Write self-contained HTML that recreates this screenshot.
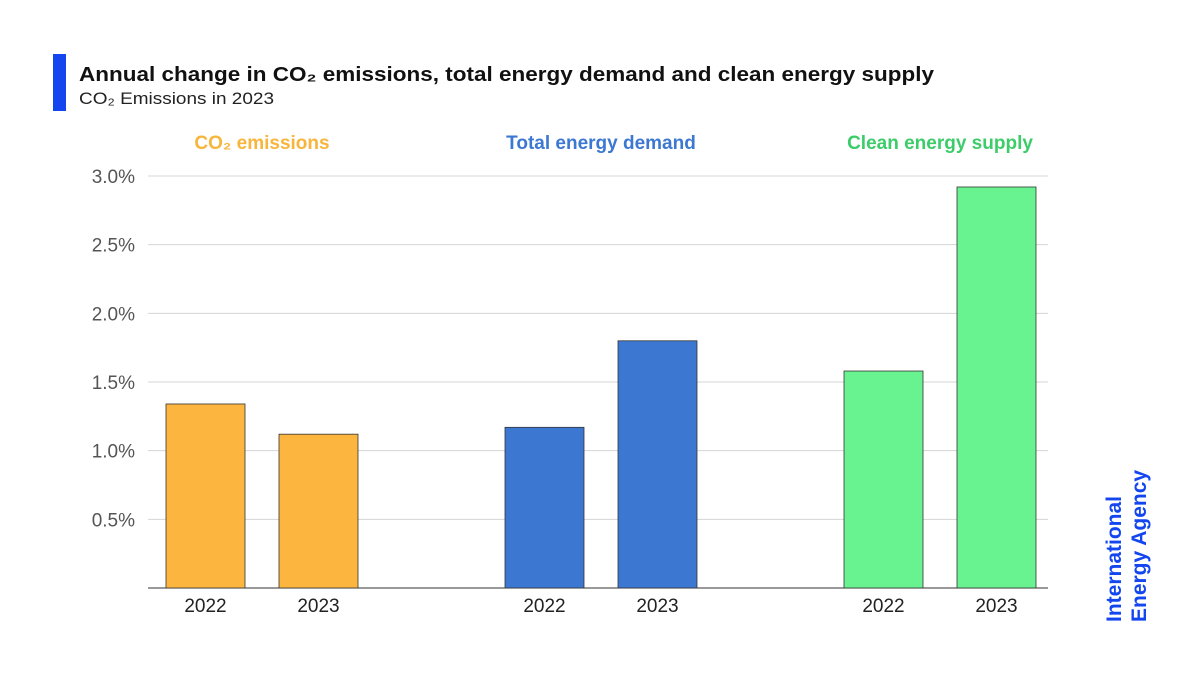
<!DOCTYPE html>
<html><head><meta charset="utf-8"><style>
html,body{margin:0;padding:0;background:#fff;}
svg{display:block;font-family:"Liberation Sans",sans-serif;}
</style></head><body>
<svg id="chart" width="1200" height="675" viewBox="0 0 1200 675">
<rect x="53" y="54" width="13" height="57" fill="#1446f0"/>
<text x="79" y="81" font-size="20.5" font-weight="bold" fill="#111" textLength="855" lengthAdjust="spacingAndGlyphs">Annual change in CO₂ emissions, total energy demand and clean energy supply</text>
<text x="79" y="104" font-size="17" fill="#222" textLength="195" lengthAdjust="spacingAndGlyphs">CO₂ Emissions in 2023</text>
<g id="grid"></g>
<g id="bars"></g>
<g id="labels"></g>
<text transform="translate(1121,622) rotate(-90)" font-size="21" font-weight="bold" fill="#1446f0">International</text>
<text transform="translate(1146,622) rotate(-90)" font-size="21" font-weight="bold" fill="#1446f0">Energy Agency</text>
</svg>
<script>
const groups = ["CO₂ emissions", "Total energy demand", "Clean energy supply"];
const years = ["2022", "2023"];
const values2022 = [1.34, 1.17, 1.58];
const values2023 = [1.12, 1.80, 2.92];
const yTicks = [0.5, 1.0, 1.5, 2.0, 2.5, 3.0];
const yTickLabels = ["0.5%", "1.0%", "1.5%", "2.0%", "2.5%", "3.0%"];
const colors = ["#fcb640", "#3c78d2", "#68f290"];
const titleColors = ["#f8b53c", "#3c78d2", "#3ccc6a"];

const NS = "http://www.w3.org/2000/svg";
const y0 = 588, pxPer = (588 - 176) / 3.0;
const yScale = v => y0 - v * pxPer;
const groupStart = [166, 505, 844], barW = 79, barGap = 113;
const xScale = (g, i) => groupStart[g] + i * barGap;
function mk(tag, attrs, parent) { const e = document.createElementNS(NS, tag); for (const k in attrs) e.setAttribute(k, attrs[k]); parent.appendChild(e); return e; }
const grid = document.getElementById("grid"), bars = document.getElementById("bars"), labels = document.getElementById("labels");
yTicks.forEach((t, i) => {
  const y = yScale(t);
  const l = mk("line", {x1: 148, x2: 1048, y1: y, y2: y, stroke: "#d4d4d4", "stroke-width": 1}, grid);
  
  
  const tx = mk("text", {x: 135, y: y + 7, "text-anchor": "end", "font-size": 19, fill: "#555"}, labels);
  tx.textContent = yTickLabels[i];
  
  
});
const ax = mk("line", {x1: 148, x2: 1048, y1: y0, y2: y0, stroke: "#333", "stroke-width": 1}, grid);


groups.forEach((g, gi) => {
  const vals = [values2022[gi], values2023[gi]];
  vals.forEach((v, i) => {
    const x = xScale(gi, i), y = yScale(v);
    const r = mk("rect", {x: x, y: y, width: barW, height: y0 - y, fill: colors[gi], stroke: "#333", "stroke-width": 0.8}, bars);
    
    
    const t = mk("text", {x: x + barW / 2, y: 612, "text-anchor": "middle", "font-size": 19, fill: "#222"}, labels);
    t.textContent = years[i];
    
    
  });
  const cx = (xScale(gi, 0) + xScale(gi, 1) + barW) / 2;
  const gt = mk("text", {x: cx, y: 149, "text-anchor": "middle", "font-size": 19, "font-weight": "bold", fill: titleColors[gi]}, labels);
  gt.textContent = g;
  
  
});
</script>
</body></html>
